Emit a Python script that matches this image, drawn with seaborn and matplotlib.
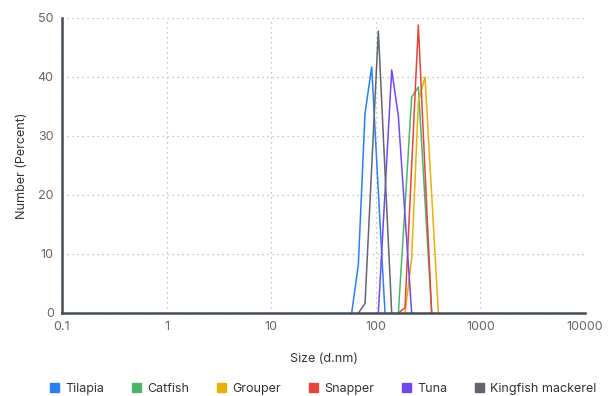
import pandas as pd
import matplotlib.pyplot as plt
import seaborn as sns
from matplotlib.patches import Patch

# size classes (d.nm) and number distribution (%) per sample
tilapia_size = [58.77, 68.06, 78.82, 91.28, 105.7, 122.4]
tilapia_num = [0, 8.2, 33.8, 41.7, 20.5, 0]

catfish_size = [164.2, 190.1, 220.2, 255.0, 295.3, 342.0]
catfish_num = [0, 18.0, 36.6, 38.3, 19.0, 0]

grouper_size = [190.1, 220.2, 255.0, 295.3, 342.0, 396.1]
grouper_num = [0, 9.3, 35.8, 40.0, 20.0, 0]

snapper_size = [164.2, 190.1, 220.2, 255.0, 295.3, 342.0]
snapper_num = [0, 0.9, 25.0, 48.8, 24.0, 0]

tuna_size = [105.7, 122.4, 141.8, 164.2, 190.1, 220.2]
tuna_num = [0, 20.5, 41.2, 33.4, 16.5, 0]

kingfish_size = [68.06, 78.82, 91.28, 105.7, 122.4, 141.8]
kingfish_num = [0, 1.6, 24.7, 47.8, 24.0, 0]

samples = ['Tilapia', 'Catfish', 'Grouper', 'Snapper', 'Tuna', 'Kingfish mackerel']
colors = ['#2B7FF0', '#4CB56A', '#E6B10A', '#E0463C', '#7149EE', '#5F6671']

sizes = [tilapia_size, catfish_size, grouper_size, snapper_size, tuna_size, kingfish_size]
nums = [tilapia_num, catfish_num, grouper_num, snapper_num, tuna_num, kingfish_num]

rows = []
for name, s, n in zip(samples, sizes, nums):
    for a, b in zip(s, n):
        rows.append({'sample': name, 'size': a, 'number': b})
df = pd.DataFrame(rows)

sns.set_theme(style="white")
plt.rcParams['font.family'] = ['Inter', 'DejaVu Sans']

fig = plt.figure(figsize=(6.11, 3.96), dpi=100)
ax = fig.add_axes([0.1015, 0.2096, 0.856, 0.745])

sns.lineplot(data=df, x='size', y='number', hue='sample', hue_order=samples,
             palette=dict(zip(samples, colors)), linewidth=1.1, ax=ax,
             legend=False, sort=True, estimator=None)

ax.set_xscale('log')
ax.set_xlim(0.1, 10000)
ax.set_ylim(0, 50)
ax.set_xticks([0.1, 1, 10, 100, 1000, 10000])
ax.set_xticklabels(['0.1', '1', '10', '100', '1000', '10000'])
ax.minorticks_off()
ax.set_yticks([0, 10, 20, 30, 40, 50])
ax.grid(True, linestyle=(0, (1, 3)), color='#b5b5b5', linewidth=0.9)
ax.tick_params(axis='both', length=0, labelsize=9, colors='#666666', pad=6)

for side in ['top', 'right']:
    ax.spines[side].set_visible(False)
for side in ['left', 'bottom']:
    ax.spines[side].set_color('#474c55')
    ax.spines[side].set_linewidth(1.8)

ax.set_xlabel('Size (d.nm)', fontsize=9, color='#333333', labelpad=14)
ax.set_ylabel('Number (Percent)', fontsize=9, color='#333333', labelpad=7)

handles = [Patch(facecolor=c, edgecolor=c) for c in colors]
ax.legend(handles, samples, loc='lower center', bbox_to_anchor=(0.5, -0.315), ncol=6,
          frameon=False, fontsize=9, handlelength=0.7, handleheight=0.7,
          handletextpad=0.5, columnspacing=2.25, labelcolor='#333333')

plt.savefig('out.png', dpi=100)
